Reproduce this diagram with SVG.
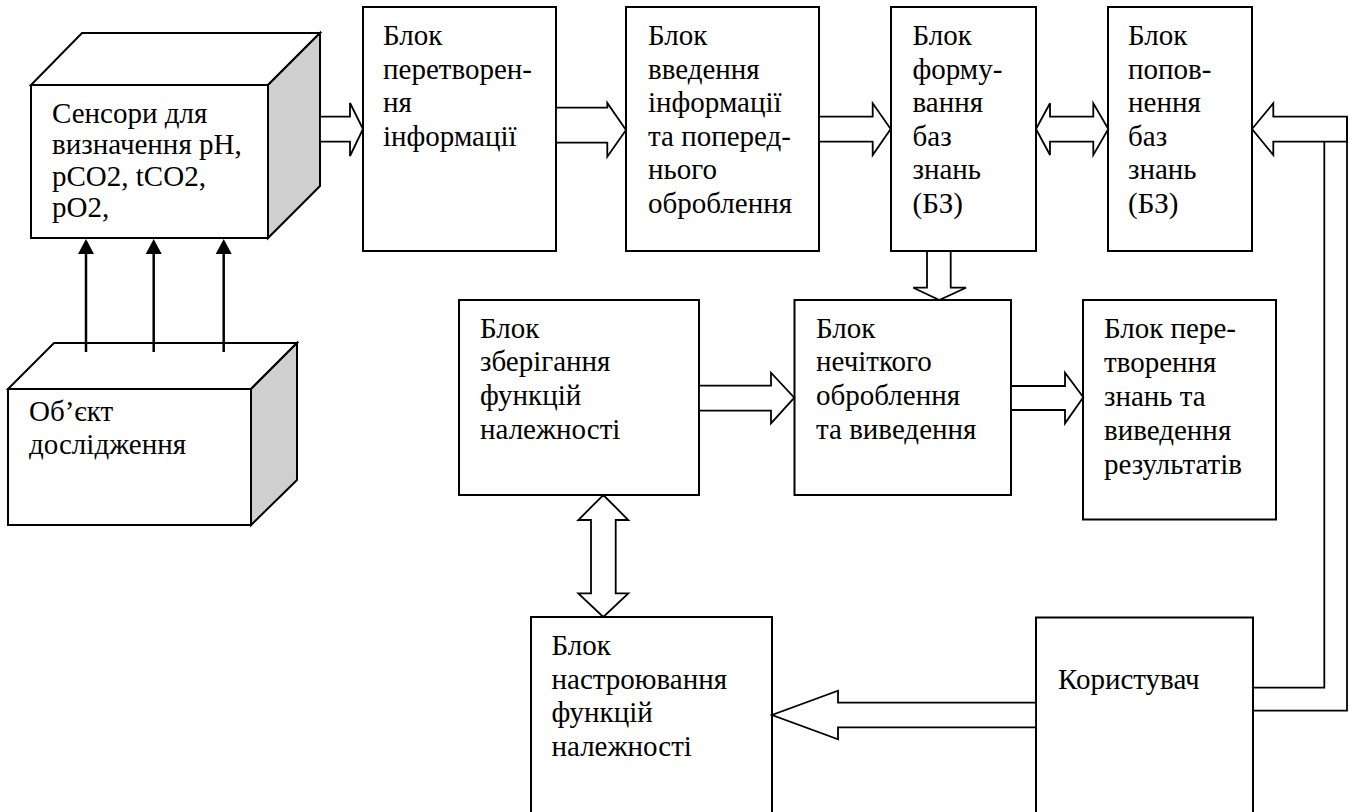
<svg xmlns="http://www.w3.org/2000/svg" width="1350" height="812" viewBox="0 0 1350 812">
<style>
.box{fill:#fff;stroke:#000;stroke-width:2}
.side{fill:#cfcfcf;stroke:#000;stroke-width:2;stroke-linejoin:miter}
.top{fill:#fff;stroke:#000;stroke-width:2}
.ba{fill:#fff;stroke:#000;stroke-width:1.8;stroke-linejoin:miter}
.ln{fill:none;stroke:#000;stroke-width:1.8}
.up{stroke:#000;stroke-width:2.5}
</style>
<rect width="1350" height="812" fill="#fff"/>
<g font-family="'Liberation Serif', serif" font-size="29" fill="#000">

<g id="sensors">
<polygon class="top" points="31,85 82,33 320,33 268,85"/>
<polygon class="side" points="268,85 320,33 320,186 268,238"/>
<rect class="box" x="31" y="85" width="237" height="153"/>
<text x="52" y="122.5">Сенсори для</text>
<text x="52" y="154">визначення pH,</text>
<text x="52" y="185.5">pCO2, tCO2,</text>
<text x="52" y="217">pO2,</text>
</g>

<g id="object">
<polygon class="top" points="8,389 54,343 297,343 251,389"/>
<polygon class="side" points="251,389 297,343 297,480 251,525"/>
<rect class="box" x="8" y="389" width="243" height="136"/>
<text x="29" y="421">Об’єкт</text>
<text x="29" y="454">дослідження</text>
</g>

<g id="b-convert">
<rect class="box" x="363" y="7" width="193" height="244"/>
<text x="383" y="45">Блок</text>
<text x="383" y="78.5">перетворен-</text>
<text x="383" y="112">ня</text>
<text x="383" y="145.5">інформації</text>
</g>

<g id="b-input">
<rect class="box" x="626" y="7" width="193" height="244"/>
<text x="648" y="45">Блок</text>
<text x="648" y="78.5">введення</text>
<text x="648" y="112">інформації</text>
<text x="648" y="145.5">та поперед-</text>
<text x="648" y="179">нього</text>
<text x="648" y="212.5">оброблення</text>
</g>

<g id="b-form">
<rect class="box" x="891" y="7" width="145" height="244"/>
<text x="912.5" y="45">Блок</text>
<text x="912.5" y="78.5">форму-</text>
<text x="912.5" y="112">вання</text>
<text x="912.5" y="145.5">баз</text>
<text x="912.5" y="179">знань</text>
<text x="912.5" y="212.5">(БЗ)</text>
</g>

<g id="b-fill">
<rect class="box" x="1108" y="7" width="144" height="244"/>
<text x="1128" y="45">Блок</text>
<text x="1128" y="78.5">попов-</text>
<text x="1128" y="112">нення</text>
<text x="1128" y="145.5">баз</text>
<text x="1128" y="179">знань</text>
<text x="1128" y="212.5">(БЗ)</text>
</g>

<g id="b-store">
<rect class="box" x="459" y="300" width="240" height="195"/>
<text x="480" y="337.5">Блок</text>
<text x="480" y="371">зберігання</text>
<text x="480" y="405">функцій</text>
<text x="480" y="439">належності</text>
</g>

<g id="b-fuzzy">
<rect class="box" x="794.5" y="300" width="216.5" height="195"/>
<text x="816" y="337.5">Блок</text>
<text x="816" y="371">нечіткого</text>
<text x="816" y="405">оброблення</text>
<text x="816" y="439">та виведення</text>
</g>

<g id="b-result">
<rect class="box" x="1083" y="300" width="193" height="219.5"/>
<text x="1104" y="338">Блок пере-</text>
<text x="1104" y="372">творення</text>
<text x="1104" y="406">знань та</text>
<text x="1104" y="440">виведення</text>
<text x="1104" y="474">результатів</text>
</g>

<g id="b-tune">
<rect class="box" x="531" y="617" width="241" height="200"/>
<text x="551.5" y="655">Блок</text>
<text x="551.5" y="688.5">настроювання</text>
<text x="551.5" y="722">функцій</text>
<text x="551.5" y="756">належності</text>
</g>

<g id="user">
<rect class="box" x="1036" y="617.5" width="217" height="200"/>
<text x="1058" y="689">Користувач</text>
</g>
</g>

<g id="connectors">
<line class="up" x1="86" y1="352" x2="86" y2="252"/>
<polygon points="86,239 78,254 94,254"/>
<line class="up" x1="153.7" y1="352" x2="153.7" y2="252"/>
<polygon points="153.7,239 145.7,254 161.7,254"/>
<line class="up" x1="223.7" y1="352" x2="223.7" y2="252"/>
<polygon points="223.7,239 215.7,254 231.7,254"/>

<polygon class="ba" points="320,116.7 350,116.7 350,103 363,129 350,156 350,141.7 320,141.7"/>
<polygon class="ba" points="556,107.7 607.3,107.7 607.3,103 626,130 607.3,156.7 607.3,142.7 556,142.7"/>
<polygon class="ba" points="819,116.7 872.7,116.7 872.7,103.3 890.7,129 872.7,155 872.7,141.7 819,141.7"/>
<polygon class="ba" points="1036,129 1050,103.3 1050,116.7 1093.3,116.7 1093.3,103.3 1108.3,129 1093.3,155 1093.3,141.7 1050,141.7 1050,155"/>
<polygon class="ba" points="1252,129 1273.3,103.3 1273.3,116.7 1347,116.7 1347,141.7 1273.3,141.7 1273.3,155"/>
<polyline class="ln" points="1347,116.7 1347,710.7 1253,710.7"/>
<polyline class="ln" points="1324.3,141.7 1324.3,687.7 1253,687.7"/>

<polygon class="ba" points="927,251 950.7,251 950.7,287.7 966,287.7 939.3,300 913.3,287.7 927,287.7"/>
<polygon class="ba" points="699,385.7 771,385.7 771,372.7 794.3,397.7 771,423.3 771,410.7 699,410.7"/>
<polygon class="ba" points="1011,386 1065,386 1065,372.7 1083.3,397.3 1065,423.3 1065,410 1011,410"/>
<polygon class="ba" points="603.3,495 628.3,520 615.7,520 615.7,593.3 628.3,593.3 603.3,617 578.3,593.3 591,593.3 591,520 578.3,520"/>
<polygon class="ba" points="1036,702.7 838,702.7 838,690.7 772,715 838,739.3 838,727.3 1036,727.3"/>
</g>
</svg>
